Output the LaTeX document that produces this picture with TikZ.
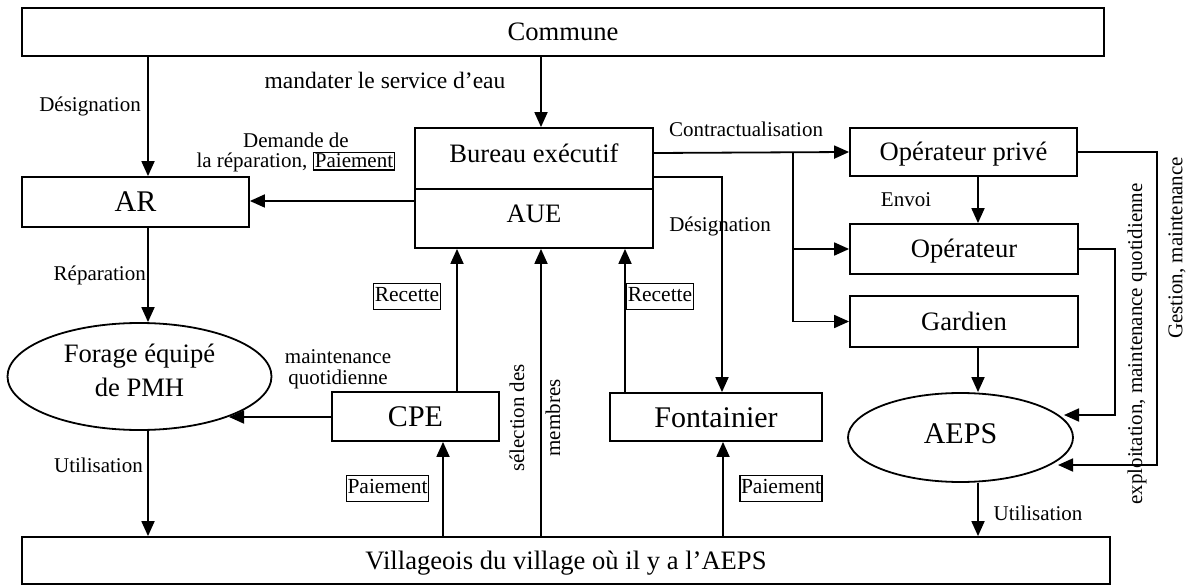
\documentclass[tikz,border=0pt]{standalone}
\usepackage{fontspec}
\setmainfont{Liberation Serif}
\usetikzlibrary{arrows.meta,shapes.geometric}
\begin{document}
\begin{tikzpicture}[x=1pt,y=-1pt,
  box/.style={draw, line width=1.8pt, inner sep=0pt, text depth=0pt},
  big/.style={font=\fontsize{30}{36}\selectfont, text height=20pt},
  med/.style={font=\fontsize{26.6}{32}\selectfont, text height=17.6pt},
  lbl/.style={inner sep=0pt, font=\fontsize{21}{25}\selectfont},
  tag/.style={draw, line width=1.4pt, inner xsep=1pt, inner ysep=3pt, font=\fontsize{21.5}{25}\selectfont, text height=15pt, text depth=4.5pt},
  arr/.style={-{Triangle[length=15pt,width=13pt]}, line width=1.8pt}]
\useasboundingbox (0,0) rectangle (1196,585);
\setlength\fboxsep{1pt}\setlength\fboxrule{1.4pt}
% boxes
\node[box,med,minimum width=1082,minimum height=48] (commune) at (563,32) {Commune};
\node[box,big,minimum width=227,minimum height=50] (ar) at (135.5,202) {AR};
\node[box,med,minimum width=238,minimum height=61,text depth=8.6pt] (bureau) at (534,158.5) {Bureau exécutif};
\node[box,med,minimum width=238,minimum height=59,text depth=8.6pt] (aue) at (534,218.5) {AUE};
\node[draw,line width=1.8pt,ellipse,inner sep=0pt,minimum width=264,minimum height=107,align=center,
  font=\fontsize{26.6}{34}\selectfont,text depth=12pt] (forage) at (139.5,376.5) {Forage équipé\\de PMH};
\node[box,big,minimum width=167,minimum height=49] (cpe) at (415.5,416.5) {CPE};
\node[box,big,minimum width=212,minimum height=48] (font) at (716,417) {Fontainier};
\node[box,med,minimum width=227,minimum height=48] (oppriv) at (963.5,152) {Opérateur privé};
\node[box,med,minimum width=228,minimum height=50] (op) at (964,249) {Opérateur};
\node[box,med,minimum width=228,minimum height=51] (gard) at (964,321.5) {Gardien};
\node[draw,line width=1.8pt,ellipse,inner sep=0pt,minimum width=225,minimum height=89,big,
  text depth=9pt] (aeps) at (960.5,437.5) {AEPS};
\node[box,med,minimum width=1088,minimum height=47] (vill) at (566,560.5) {Villageois du village où il y a l’AEPS};
% labels
\node[lbl,anchor=base east] (l1) at (141,112) {Désignation};
\node[lbl,anchor=base,font=\fontsize{23.5}{28}\selectfont] (l2) at (385,89) {mandater le service d’eau};
\node[lbl,anchor=base] (l3) at (296,148) {Demande de};
\node[lbl,anchor=base] (l4) at (296,168) {la réparation, \fbox{Paiement}};
\node[lbl,anchor=base east] (l5) at (146,280) {Réparation};
\node[lbl,anchor=base] (l6) at (338,363) {maintenance};
\node[lbl,anchor=base] (l7) at (338,384) {quotidienne};
\node[lbl,anchor=base east] (l8) at (143,472) {Utilisation};
\node[tag] (l9) at (407,296.5) {Recette};
\node[tag] (l10) at (660,296.5) {Recette};
\node[tag] (l11) at (387.5,488.5) {Paiement};
\node[tag] (l12) at (781,488.5) {Paiement};
\node[lbl,rotate=90,align=center,font=\fontsize{21}{36}\selectfont] (l13) at (535,418) {sélection des\\membres};
\node[lbl,anchor=base] (l14) at (746,137) {Contractualisation};
\node[lbl,anchor=base] (l15) at (720,232) {Désignation};
\node[lbl,anchor=base] (l16) at (906,207) {Envoi};
\node[lbl,anchor=base] (l17) at (1038,520) {Utilisation};
\node[lbl,rotate=90] (l18) at (1137,344) {exploitation, maintenance quotidienne};
\node[lbl,rotate=90] (l19) at (1177,248) {Gestion, maintenance};
% helper coordinates
\coordinate (fe) at (229,417);
\coordinate (ae1) at (1064,415);
\coordinate (ae2) at (1058,465);
\coordinate (br) at (793,153);
% connectors
\draw[arr] (commune.south -| 148,0) -- (ar.north -| 148,0);
\draw[arr] (commune.south -| 541,0) -- (bureau.north -| 541,0);
\draw[arr] (aue.west |- 0,201) -- (ar.east |- 0,201);
\draw[arr] (ar.south -| 148,0) -- (forage.north -| 148,0);
\draw[arr] (forage.south -| 148,0) -- (vill.north -| 148,0);
\draw[arr] (cpe.west |- fe) -- (fe);
\draw[arr] (cpe.north -| 457,0) -- (aue.south -| 457,0);
\draw[arr] (vill.north -| 541,0) -- (aue.south -| 541,0);
\draw[arr] (font.north -| 625,0) -- (aue.south -| 625,0);
\draw[arr] (vill.north -| 443,0) -- (cpe.south -| 443,0);
\draw[arr] (vill.north -| 723,0) -- (font.south -| 723,0);
\draw[arr] (bureau.east |- br) -- (oppriv.west);
\draw[arr] (br) |- (op.west);
\draw[arr] (br) |- (gard.west);
\draw[arr] (bureau.east |- 0,177) -| (font.north -| 722,0);
\draw[arr] (oppriv.south -| 978,0) -- (op.north -| 978,0);
\draw[arr] (gard.south -| 978,0) -- (aeps.north -| 978,0);
\draw[arr] (aeps.south -| 978,0) -- (vill.north -| 978,0);
\draw[arr] (op.east) -| (1115,415) -- (ae1);
\draw[arr] (oppriv.east) -| (1157,465) -- (ae2);
\end{tikzpicture}
\end{document}
